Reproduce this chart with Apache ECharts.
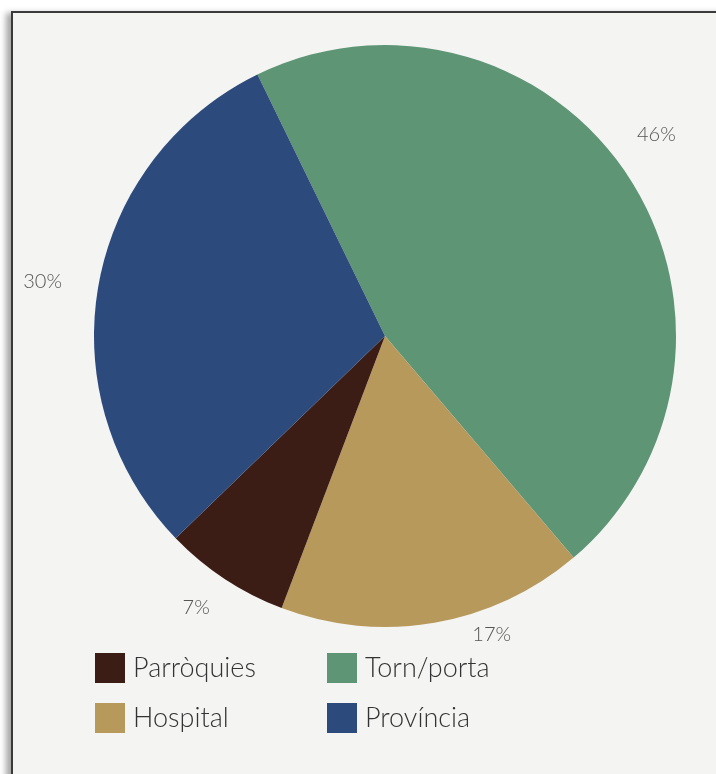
<!DOCTYPE html>
<html>
<head>
<meta charset="utf-8">
<script src="https://cdn.jsdelivr.net/npm/echarts@6/dist/echarts.min.js"></script>
<style>
  html, body { margin: 0; padding: 0; background: #ffffff; overflow: hidden; }
  #frame { position: absolute; left: 11px; top: 11px; width: 720px; height: 780px;
    background: #f4f4f2; border-left: 2px solid #3a3a3a; border-top: 2px solid #3a3a3a;
    box-shadow: -5px 2px 6px rgba(0,0,0,0.35); }
  #chart { position: absolute; left: 0; top: 0; width: 716px; height: 774px; }
</style>
</head>
<body>
<div id="frame"></div>
<div id="chart"></div>
<script>
const categories = ['Torn/porta', 'Hospital', 'Parròquies', 'Província'];
const values = [46, 17, 7, 30];
const colors = ['#5d9575', '#b8995c', '#3b1d15', '#2d4a7c'];
const labelOffsets = [[-30, -20], [26, -28], [12, -5], [8, 3]];

const chart = echarts.init(document.getElementById('chart'), null, { renderer: 'canvas' });
const fontFamily = 'Lato, "Open Sans", sans-serif';
const legendText = { fontFamily, fontSize: 27, fontWeight: 300, color: '#333', padding: [0, 0, 0, 3] };

chart.setOption({
  backgroundColor: 'transparent',
  animation: false,
  legend: [
    {
      orient: 'vertical', left: 90, top: 648, itemWidth: 30, itemHeight: 30, itemGap: 20,
      icon: 'rect', data: ['Parròquies', 'Hospital'], textStyle: legendText
    },
    {
      orient: 'vertical', left: 322, top: 648, itemWidth: 30, itemHeight: 30, itemGap: 20,
      icon: 'rect', data: ['Torn/porta', 'Província'], textStyle: legendText
    }
  ],
  series: [{
    type: 'pie',
    center: [385, 336],
    radius: 291,
    startAngle: 116,
    clockwise: true,
    avoidLabelOverlap: false,
    label: {
      show: true, position: 'outside', formatter: '{d}%',
      fontFamily, fontSize: 20, fontWeight: 300, color: '#555'
    },
    labelLine: { show: false, length: 40, length2: 0 },
    itemStyle: { borderWidth: 0 },
    emphasis: { disabled: true },
    data: categories.map((name, i) => ({
      name, value: values[i],
      itemStyle: { color: colors[i] },
      label: { offset: labelOffsets[i] }
    }))
  }]
});
</script>
</body>
</html>
